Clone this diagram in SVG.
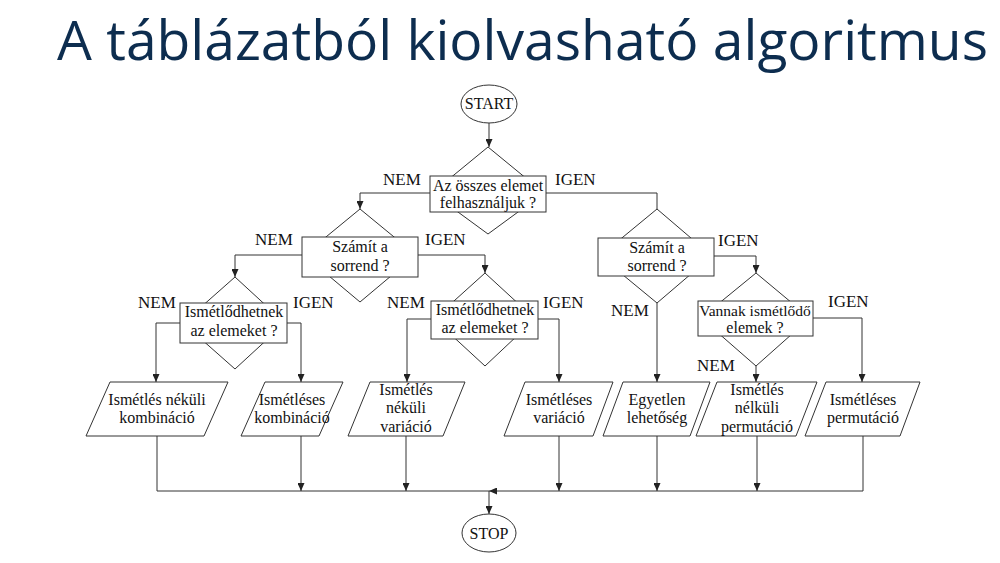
<svg xmlns="http://www.w3.org/2000/svg" width="1000" height="563" viewBox="0 0 1000 563">
<style>
.title{font-family:"Open Sans","Liberation Sans",sans-serif;font-size:55px;fill:#0d2d4f}
.shape{fill:#fff;stroke:#333;stroke-width:1}
.t{font-family:"Liberation Serif","DejaVu Serif",serif;font-size:16px;fill:#111;text-anchor:middle}
.lbl{font-family:"Liberation Serif","DejaVu Serif",serif;font-size:17px;fill:#111}
.c{fill:none;stroke:#333;stroke-width:1}
</style>
<defs>
<marker id="arr" markerUnits="userSpaceOnUse" markerWidth="8" markerHeight="7" refX="8" refY="3.5" orient="auto">
<path d="M0,0 L8,3.5 L0,7 z" fill="#222"/>
</marker>
</defs>
<rect width="1000" height="563" fill="#fff"/>
<text class="title" x="57" y="60" textLength="931" lengthAdjust="spacingAndGlyphs">A táblázatból kiolvasható algoritmus</text>

<g id="connectors">
<path class="c" d="M489,123 V147" marker-end="url(#arr)"/>
<path class="c" d="M430,193 H360 V209" marker-end="url(#arr)"/>
<path class="c" d="M546,193 H657 V209"/>
<path class="c" d="M302,255 H235 V277" marker-end="url(#arr)"/>
<path class="c" d="M418,255 H485 V273" marker-end="url(#arr)"/>
<path class="c" d="M714,256 H756 V273" marker-end="url(#arr)"/>
<path class="c" d="M657,303 V382" marker-end="url(#arr)"/>
<path class="c" d="M180,323 H156 V382" marker-end="url(#arr)"/>
<path class="c" d="M287,323 H301 V382" marker-end="url(#arr)"/>
<path class="c" d="M431,319 H407 V382" marker-end="url(#arr)"/>
<path class="c" d="M538,319 H559 V382" marker-end="url(#arr)"/>
<path class="c" d="M756,366 V382" marker-end="url(#arr)"/>
<path class="c" d="M813,318 H862 V382" marker-end="url(#arr)"/>
<path class="c" d="M157,436 V491 H489"/>
<path class="c" d="M863,436 V491 H489" marker-end="url(#arr)"/>
<path class="c" d="M301,436 V491" marker-end="url(#arr)"/>
<path class="c" d="M406,436 V491" marker-end="url(#arr)"/>
<path class="c" d="M559,436 V491" marker-end="url(#arr)"/>
<path class="c" d="M657,436 V491" marker-end="url(#arr)"/>
<path class="c" d="M757,436 V491" marker-end="url(#arr)"/>
<path class="c" d="M489,491 V514" marker-end="url(#arr)"/>
</g>

<g id="labels">
<text class="lbl" x="383" y="185">NEM</text>
<text class="lbl" x="555" y="185">IGEN</text>
<text class="lbl" x="255" y="245">NEM</text>
<text class="lbl" x="425" y="245">IGEN</text>
<text class="lbl" x="718" y="246">IGEN</text>
<text class="lbl" x="611" y="316">NEM</text>
<text class="lbl" x="138" y="308">NEM</text>
<text class="lbl" x="293" y="308">IGEN</text>
<text class="lbl" x="387" y="308">NEM</text>
<text class="lbl" x="543" y="308">IGEN</text>
<text class="lbl" x="828" y="307">IGEN</text>
<text class="lbl" x="697" y="371">NEM</text>
</g>

<g id="start">
<ellipse class="shape" cx="489" cy="104" rx="28" ry="19"/>
<text class="t" x="489" y="109">START</text>
</g>

<g id="d1">
<polygon class="shape" points="488,147 544,193 488,234 432,193"/>
<rect class="shape" x="430" y="176" width="116" height="36"/>
<text class="t" x="488" y="191">Az összes elemet</text>
<text class="t" x="488" y="208">felhasználjuk ?</text>
</g>

<g id="d2">
<polygon class="shape" points="360,209 416,255 360,302 304,255"/>
<rect class="shape" x="302" y="237" width="116" height="40"/>
<text class="t" x="360" y="252">Számít a</text>
<text class="t" x="360" y="271">sorrend ?</text>
</g>

<g id="d3">
<polygon class="shape" points="657,209 712,256 657,303 600,256"/>
<rect class="shape" x="598" y="238" width="116" height="38"/>
<text class="t" x="657" y="253">Számít a</text>
<text class="t" x="657" y="271">sorrend ?</text>
</g>

<g id="d4">
<polygon class="shape" points="235,277 285,323 235,369 183,323"/>
<rect class="shape" x="180" y="303" width="107" height="40"/>
<text class="t" x="234" y="317">Ismétlődhetnek</text>
<text class="t" x="234" y="336">az elemeket ?</text>
</g>

<g id="d5">
<polygon class="shape" points="485,273 535,319 485,366 434,319"/>
<rect class="shape" x="431" y="301" width="107" height="38"/>
<text class="t" x="485" y="315">Ismétlődhetnek</text>
<text class="t" x="485" y="333">az elemeket ?</text>
</g>

<g id="d6">
<polygon class="shape" points="756,273 810,318 756,366 701,318"/>
<rect class="shape" x="698" y="301" width="115" height="35"/>
<text class="t" x="755" y="316" style="font-size:15.5px">Vannak ismétlődő</text>
<text class="t" x="755" y="333">elemek ?</text>
</g>

<g id="p1">
<polygon class="shape" points="110,382 228,382 204,436 86,436"/>
<text class="t" x="157" y="405">Ismétlés néküli</text>
<text class="t" x="157" y="423">kombináció</text>
</g>

<g id="p2">
<polygon class="shape" points="265,382 343,382 319,436 241,436"/>
<text class="t" x="292" y="405">Ismétléses</text>
<text class="t" x="292" y="423">kombináció</text>
</g>

<g id="p3">
<polygon class="shape" points="370,382 465,382 443,436 348,436"/>
<text class="t" x="406" y="395">Ismétlés</text>
<text class="t" x="406" y="413">néküli</text>
<text class="t" x="406" y="432">variáció</text>
</g>

<g id="p4">
<polygon class="shape" points="525,382 613,382 593,436 504,436"/>
<text class="t" x="559" y="405">Ismétléses</text>
<text class="t" x="559" y="423">variáció</text>
</g>

<g id="p5">
<polygon class="shape" points="623,382 710,382 690,436 603,436"/>
<text class="t" x="657" y="405">Egyetlen</text>
<text class="t" x="657" y="423">lehetőség</text>
</g>

<g id="p6">
<polygon class="shape" points="717,382 817,382 796,436 696,436"/>
<text class="t" x="757" y="395">Ismétlés</text>
<text class="t" x="757" y="413">nélküli</text>
<text class="t" x="757" y="432">permutáció</text>
</g>

<g id="p7">
<polygon class="shape" points="826,382 920,382 900,436 805,436"/>
<text class="t" x="863" y="405">Ismétléses</text>
<text class="t" x="863" y="423">permutáció</text>
</g>

<g id="stop">
<ellipse class="shape" cx="489" cy="533" rx="27" ry="19"/>
<text class="t" x="489" y="539">STOP</text>
</g>
</svg>
